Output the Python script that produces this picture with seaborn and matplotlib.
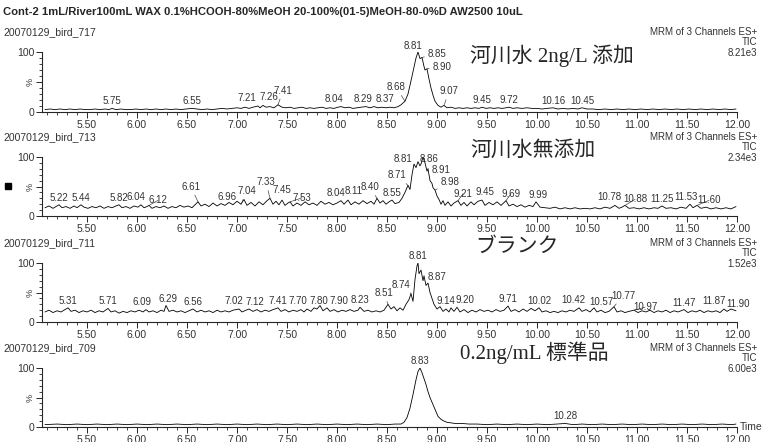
import matplotlib
matplotlib.use("Agg")
import matplotlib.pyplot as plt
from matplotlib.patches import Rectangle
from matplotlib.ticker import MultipleLocator, FixedLocator
import numpy as np
import seaborn as sns

TITLE = "Cont-2 1mL/River100mL WAX 0.1%HCOOH-80%MeOH 20-100%(01-5)MeOH-80-0%D AW2500 10uL"
samples = ["20070129_bird_717", "20070129_bird_713", "20070129_bird_711", "20070129_bird_709"]
conditions = ["河川水 2ng/L 添加", "河川水無添加", "ブランク", "0.2ng/mL 標準品"]
scales = ["8.21e3", "2.34e3", "1.52e3", "6.00e3"]
x_ticks = [5.50, 6.00, 6.50, 7.00, 7.50, 8.00, 8.50, 9.00, 9.50, 10.00, 10.50, 11.00, 11.50, 12.00]

# trace 1: river water + 2 ng/L
t1 = [5.08, 5.13, 5.18, 5.23, 5.28, 5.33, 5.38, 5.43, 5.48, 5.53, 5.58, 5.63, 5.68, 5.72, 5.75,
      5.79, 5.84, 5.89, 5.94, 5.99, 6.04, 6.09, 6.14, 6.19, 6.24, 6.29, 6.34, 6.39, 6.44, 6.49,
      6.55, 6.60, 6.65, 6.70, 6.75, 6.80, 6.85, 6.90, 6.95, 7.00, 7.04, 7.08, 7.12, 7.16, 7.21,
      7.23, 7.26, 7.29, 7.33, 7.37, 7.41, 7.45, 7.49, 7.53, 7.57, 7.61, 7.65, 7.69, 7.73, 7.77,
      7.81, 7.85, 7.89, 7.93, 7.97, 8.01, 8.04, 8.08, 8.12, 8.16, 8.20, 8.24, 8.29, 8.33, 8.37,
      8.41, 8.45, 8.49, 8.53, 8.57, 8.61, 8.64, 8.68, 8.71, 8.74, 8.77, 8.79, 8.81, 8.83, 8.85,
      8.87, 8.88, 8.90, 8.92, 8.94, 8.96, 8.98, 9.01, 9.04, 9.07, 9.10, 9.14, 9.18, 9.22, 9.26,
      9.30, 9.34, 9.38, 9.42, 9.45, 9.49, 9.53, 9.57, 9.61, 9.65, 9.69, 9.72, 9.76, 9.80, 9.85,
      9.90, 9.95, 10.00, 10.05, 10.10, 10.16, 10.21, 10.26, 10.31, 10.36, 10.41, 10.45, 10.50,
      10.56, 10.62, 10.68, 10.74, 10.80, 10.86, 10.92, 10.98, 11.04, 11.10, 11.16, 11.22, 11.28,
      11.34, 11.40, 11.46, 11.52, 11.58, 11.64, 11.70, 11.76, 11.82, 11.88, 11.94, 11.99]
y1 = [4, 5, 4, 5, 4, 5, 4, 5, 4, 4, 5, 4, 5, 4, 6,
      4, 5, 4, 4, 5, 4, 5, 4, 5, 4, 5, 4, 5, 4, 5,
      6, 5, 4, 5, 4, 5, 6, 5, 6, 7, 6, 8, 6, 8, 10,
      7, 11, 8, 9, 7, 12, 8, 7, 8, 6, 7, 8, 6, 7, 6,
      7, 8, 6, 7, 6, 8, 9, 7, 8, 6, 7, 8, 9, 7, 9,
      7, 8, 7, 8, 7, 9, 12, 18, 30, 52, 75, 90, 100, 89, 91,
      76, 70, 72, 55, 40, 28, 18, 11, 8, 11, 7, 8, 6, 7, 6,
      7, 6, 7, 6, 8, 6, 7, 6, 7, 6, 7, 8, 6, 7, 6,
      7, 6, 6, 5, 6, 7, 5, 6, 5, 6, 5, 7, 5,
      5, 4, 5, 4, 5, 4, 5, 4, 5, 4, 5, 4, 5,
      4, 5, 4, 5, 4, 5, 4, 5, 4, 5, 4, 5]
peaks1 = ["5.75", "6.55", "7.21", "7.26", "7.41", "8.04", "8.29", "8.37", "8.68", "8.81",
          "8.85", "8.90", "9.07", "9.45", "9.72", "10.16", "10.45"]

# trace 2: river water, no spike
t2 = [5.08, 5.12, 5.16, 5.19, 5.22, 5.25, 5.29, 5.33, 5.37, 5.40, 5.44, 5.47, 5.51, 5.55, 5.59,
      5.63, 5.67, 5.71, 5.75, 5.79, 5.82, 5.85, 5.89, 5.93, 5.97, 6.01, 6.04, 6.07, 6.10, 6.12,
      6.15, 6.19, 6.23, 6.27, 6.31, 6.35, 6.39, 6.43, 6.47, 6.51, 6.55, 6.58, 6.61, 6.64, 6.68,
      6.72, 6.76, 6.80, 6.84, 6.88, 6.92, 6.96, 7.00, 7.04, 7.07, 7.10, 7.14, 7.18, 7.22, 7.26,
      7.30, 7.33, 7.36, 7.39, 7.42, 7.45, 7.48, 7.51, 7.53, 7.56, 7.60, 7.64, 7.68, 7.72, 7.76,
      7.80, 7.84, 7.88, 7.92, 7.96, 8.00, 8.04, 8.07, 8.11, 8.14, 8.18, 8.22, 8.26, 8.30, 8.34,
      8.37, 8.40, 8.43, 8.46, 8.49, 8.52, 8.55, 8.58, 8.62, 8.65, 8.68, 8.71, 8.73, 8.75, 8.77,
      8.79, 8.81, 8.83, 8.84, 8.86, 8.88, 8.90, 8.91, 8.93, 8.95, 8.96, 8.98, 9.00, 9.02, 9.04,
      9.06, 9.08, 9.11, 9.14, 9.17, 9.21, 9.24, 9.27, 9.30, 9.34, 9.37, 9.41, 9.45, 9.48, 9.52,
      9.56, 9.60, 9.64, 9.69, 9.72, 9.76, 9.80, 9.84, 9.88, 9.92, 9.96, 9.99, 10.03, 10.08,
      10.13, 10.18, 10.23, 10.28, 10.33, 10.38, 10.43, 10.48, 10.53, 10.58, 10.63, 10.68, 10.73,
      10.78, 10.82, 10.85, 10.88, 10.92, 10.97, 11.02, 11.07, 11.12, 11.17, 11.21, 11.25, 11.29,
      11.34, 11.39, 11.44, 11.49, 11.53, 11.56, 11.60, 11.64, 11.69, 11.74, 11.79, 11.84, 11.89,
      11.94, 11.99]
y2 = [14, 17, 13, 16, 19, 14, 16, 13, 17, 14, 19, 15, 13, 16, 14,
      17, 13, 16, 14, 17, 19, 14, 16, 13, 17, 15, 19, 14, 16, 18,
      13, 16, 14, 17, 13, 16, 14, 18, 15, 17, 14, 19, 24, 17, 20,
      16, 22, 17, 21, 18, 23, 19, 25, 20, 28, 18, 23, 17, 24, 19,
      26, 30, 20, 25, 19, 27, 18, 22, 24, 17, 22, 18, 24, 19, 22,
      18, 25, 20, 23, 19, 22, 26, 20, 27, 19, 24, 20, 26, 21, 25,
      20, 30, 22, 26, 20, 24, 27, 21, 23, 30, 40, 52, 45, 70, 88,
      82, 92, 85, 88, 100, 90, 76, 80, 60, 55, 48, 44, 34, 28, 20,
      26, 18, 24, 17, 22, 26, 18, 23, 17, 24, 19, 25, 27, 18, 23,
      19, 24, 18, 26, 17, 20, 16, 19, 15, 18, 16, 24, 15, 14,
      13, 15, 12, 14, 12, 14, 12, 13, 12, 14, 12, 15, 13,
      18, 13, 15, 18, 13, 14, 12, 14, 12, 14, 13, 17, 13,
      14, 12, 15, 13, 20, 14, 18, 13, 15, 12, 14, 12, 14,
      12, 16]
peaks2 = ["5.22", "5.44", "5.82", "6.04", "6.12", "6.61", "6.96", "7.04", "7.33", "7.45",
          "7.53", "8.04", "8.11", "8.40", "8.55", "8.71", "8.81", "8.86", "8.91", "8.98",
          "9.21", "9.45", "9.69", "9.99", "10.78", "10.88", "11.25", "11.53", "11.60"]

# trace 3: blank
t3 = [5.08, 5.12, 5.16, 5.20, 5.24, 5.28, 5.31, 5.34, 5.38, 5.42, 5.46, 5.50, 5.54, 5.58, 5.62,
      5.66, 5.71, 5.74, 5.78, 5.82, 5.86, 5.90, 5.94, 5.98, 6.02, 6.06, 6.09, 6.12, 6.16, 6.20,
      6.24, 6.27, 6.29, 6.32, 6.36, 6.40, 6.44, 6.48, 6.52, 6.56, 6.60, 6.64, 6.68, 6.72, 6.76,
      6.80, 6.84, 6.88, 6.92, 6.96, 7.02, 7.05, 7.09, 7.12, 7.16, 7.20, 7.24, 7.28, 7.32, 7.36,
      7.41, 7.44, 7.48, 7.52, 7.56, 7.60, 7.64, 7.67, 7.70, 7.74, 7.77, 7.80, 7.83, 7.86, 7.90,
      7.93, 7.97, 8.01, 8.05, 8.09, 8.13, 8.17, 8.21, 8.23, 8.27, 8.31, 8.35, 8.39, 8.43, 8.47,
      8.51, 8.54, 8.57, 8.60, 8.63, 8.66, 8.69, 8.72, 8.74, 8.76, 8.78, 8.80, 8.81, 8.82, 8.84,
      8.86, 8.87, 8.89, 8.91, 8.93, 8.95, 8.97, 9.00, 9.03, 9.06, 9.09, 9.12, 9.14, 9.17, 9.20,
      9.23, 9.27, 9.31, 9.35, 9.39, 9.43, 9.47, 9.51, 9.55, 9.59, 9.63, 9.67, 9.71, 9.74, 9.78,
      9.82, 9.86, 9.90, 9.94, 9.98, 10.02, 10.05, 10.09, 10.13, 10.17, 10.21, 10.25, 10.29,
      10.33, 10.37, 10.42, 10.45, 10.49, 10.53, 10.57, 10.60, 10.64, 10.68, 10.72, 10.77, 10.80,
      10.84, 10.88, 10.92, 10.97, 11.01, 11.05, 11.09, 11.13, 11.17, 11.21, 11.25, 11.29, 11.33,
      11.37, 11.41, 11.47, 11.51, 11.55, 11.59, 11.63, 11.67, 11.71, 11.75, 11.79, 11.83, 11.87,
      11.90, 11.94, 11.99]
y3 = [17, 20, 16, 19, 17, 21, 24, 18, 20, 16, 19, 17, 20, 16, 19,
      17, 23, 17, 19, 15, 18, 16, 19, 17, 20, 17, 21, 17, 19, 16,
      20, 18, 28, 18, 20, 17, 19, 16, 19, 22, 17, 20, 17, 19, 16,
      20, 17, 19, 17, 20, 22, 17, 20, 22, 18, 21, 17, 20, 18, 21,
      24, 18, 21, 17, 20, 18, 21, 17, 22, 18, 24, 22, 28, 19, 24,
      18, 21, 17, 20, 18, 21, 18, 20, 25, 18, 20, 17, 19, 17, 20,
      30, 22, 26, 19, 24, 20, 30, 38, 48, 35, 72, 95, 100, 82, 88,
      70, 78, 62, 66, 50, 40, 30, 22, 26, 18, 22, 17, 24, 18, 25,
      17, 21, 16, 20, 17, 21, 18, 20, 17, 21, 18, 20, 27, 18, 21,
      17, 22, 18, 23, 19, 24, 17, 19, 16, 18, 16, 19, 17,
      20, 18, 24, 18, 21, 17, 24, 17, 20, 16, 18, 26, 17,
      19, 16, 18, 20, 16, 19, 17, 20, 16, 19, 17, 20, 16,
      19, 17, 21, 16, 19, 17, 20, 16, 19, 17, 19, 16, 22,
      18, 22, 19]
peaks3 = ["5.31", "5.71", "6.09", "6.29", "6.56", "7.02", "7.12", "7.41", "7.70", "7.80",
          "7.90", "8.23", "8.51", "8.74", "8.81", "8.87", "9.14", "9.20", "9.71", "10.02",
          "10.42", "10.57", "10.77", "10.97", "11.47", "11.87", "11.90"]

# trace 4: 0.2 ng/mL standard
t4 = [5.08, 5.20, 5.30, 5.40, 5.50, 5.60, 5.70, 5.80, 5.90, 6.00, 6.10, 6.20, 6.30, 6.40, 6.50,
      6.60, 6.70, 6.80, 6.90, 7.00, 7.10, 7.20, 7.30, 7.40, 7.50, 7.60, 7.70, 7.80, 7.90, 8.00,
      8.10, 8.20, 8.30, 8.40, 8.50, 8.58, 8.64, 8.67, 8.70, 8.73, 8.76, 8.79, 8.81, 8.83, 8.85,
      8.87, 8.89, 8.91, 8.93, 8.95, 8.97, 8.99, 9.01, 9.04, 9.07, 9.10, 9.14, 9.18, 9.25, 9.32,
      9.40, 9.50, 9.60, 9.70, 9.80, 9.90, 10.00, 10.10, 10.20, 10.28, 10.36, 10.45, 10.55,
      10.65, 10.75, 10.85, 10.95, 11.05, 11.15, 11.25, 11.35, 11.45, 11.55, 11.65, 11.75,
      11.85, 11.95, 11.99]
y4 = [4, 5, 4, 5, 4, 5, 4, 5, 4, 5, 4, 5, 4, 5, 4,
      5, 4, 5, 4, 5, 4, 5, 4, 5, 4, 5, 4, 5, 4, 5,
      4, 5, 4, 5, 4, 5, 5, 8, 16, 32, 55, 80, 94, 100, 92,
      82, 72, 60, 50, 42, 34, 26, 18, 13, 10, 8, 7, 6, 6, 5,
      5, 4, 5, 4, 5, 4, 5, 4, 5, 6, 4, 5, 4,
      5, 4, 5, 4, 5, 4, 5, 4, 5, 4, 5, 4,
      5, 4, 5]
peaks4 = ["8.83", "10.28"]

traces = [(t1, y1, peaks1), (t2, y2, peaks2), (t3, y3, peaks3), (t4, y4, peaks4)]

# label offsets in pixels (dx, dy, leader line)
label_offsets = [
    {"7.21": (-11, 3, False), "7.26": (6, 3, False), "7.41": (5, 9, True), "8.04": (-7, 3, False),
     "8.29": (-3, 3, False), "8.37": (11, 3, False), "8.68": (-9, 9, True), "8.81": (-5, 1, False),
     "8.85": (15, -2, True), "8.90": (15, -3, True), "9.07": (5, 9, True)},
    {"6.04": (-5, 3, False), "6.12": (9, 0, True), "6.61": (-7, 10, True), "6.96": (-6, 3, False),
     "7.04": (6, 8, True), "7.33": (-4, 11, True), "7.45": (0, 5, False), "7.53": (12, -1, True),
     "8.04": (-5, 3, False), "8.11": (6, 4, False), "8.40": (-7, 6, True), "8.55": (0, 2, False),
     "8.71": (-11, 5, True), "8.81": (-15, -2, False), "8.86": (6, -7, False),
     "8.91": (13, -6, True), "8.98": (15, 3, True), "9.21": (5, 2, True), "9.45": (3, 3, False),
     "9.69": (5, 2, True), "9.99": (2, 2, False), "10.78": (-6, 3, False), "10.88": (10, 1, True),
     "11.53": (-4, 2, False), "11.60": (12, 0, True)},
    {"6.09": (-4, 3, False), "6.29": (2, 1, False), "7.02": (-5, 3, False), "7.12": (6, 2, False),
     "7.70": (-9, 3, False), "7.80": (2, 3, False), "7.90": (12, 2, False), "8.51": (-4, 6, True),
     "8.74": (-10, 4, True), "8.87": (13, -6, True), "9.14": (-5, 2, False), "9.20": (8, 2, False),
     "10.42": (-6, 3, False), "10.57": (7, 1, False), "10.77": (9, 6, True),
     "10.97": (11, -2, True), "11.87": (-10, 3, False), "11.90": (11, 2, False)},
    {},
]

W, H = 770, 442
ax_left, ax_right = 42, 737
ax_tops = [52, 157, 263, 368]
ax_bottoms = [112, 216, 322, 427]
label_pos = [(470, 56), (470, 151), (475, 247), (460, 353)]

sns.set_style("ticks")
plt.rcParams["font.family"] = ["Liberation Sans", "DejaVu Sans"]
jp_family = ["Liberation Serif", "Noto Sans CJK JP"]
small_col = "#333333"

fig = plt.figure(figsize=(W / 100, H / 100), dpi=100)


def fx(px):
    return px / W


def fy(py):
    return 1 - py / H


fig.text(fx(3), fy(12), TITLE, fontsize=8.1, fontweight="bold", va="center", ha="left")

for i, (t, y, peaks) in enumerate(traces):
    top, bot = ax_tops[i], ax_bottoms[i]
    ax = fig.add_axes([fx(ax_left), fy(bot), (ax_right - ax_left) / W, (bot - top) / H])
    sns.lineplot(x=t, y=y, ax=ax, color="black", linewidth=0.6, estimator=None, sort=False)
    ax.set_xlim(5.05, 12.0)
    ax.set_ylim(0, 100)
    sns.despine(ax=ax)
    for s in ("left", "bottom"):
        ax.spines[s].set_linewidth(0.8)
    ax.xaxis.set_major_locator(FixedLocator(x_ticks))
    ax.set_xticklabels([f"{v:.2f}" for v in x_ticks])
    ax.xaxis.set_minor_locator(MultipleLocator(0.1))
    ax.yaxis.set_major_locator(FixedLocator([0, 50, 100]))
    ax.set_yticklabels(["0", "%", "100"])
    ax.yaxis.set_minor_locator(MultipleLocator(10))
    ax.tick_params(axis="both", which="major", length=4, width=0.7, labelsize=7.5,
                   labelcolor=small_col, pad=1.5)
    ax.tick_params(axis="both", which="minor", length=2, width=0.6)
    for lab in ax.get_yticklabels():
        if lab.get_text() == "%":
            lab.set_rotation(90)
            lab.set_fontsize(6.5)
            lab.set_va("center")
    ax.set_xlabel("")
    ax.set_ylabel("")

    offs = label_offsets[i]
    for p in peaks:
        tp = float(p)
        yp = float(np.interp(tp, t, y))
        dx, dy, leader = offs.get(p, (0, 2, False))
        ax.annotate(p, xy=(tp, yp), xytext=(dx, dy), textcoords="offset pixels",
                    ha="center", va="bottom", fontsize=7, color=small_col,
                    annotation_clip=False,
                    arrowprops=dict(arrowstyle="-", lw=0.5, color="#444444",
                                    shrinkA=0, shrinkB=0) if leader else None)

    fig.text(fx(3), fy(top - 20), samples[i], fontsize=7.5, color=small_col, va="center")
    fig.text(fx(757), fy(top - 20), "MRM of 3 Channels ES+", fontsize=7, color=small_col,
             va="center", ha="right")
    fig.text(fx(757), fy(top - 10), "TIC", fontsize=7, color=small_col, va="center", ha="right")
    fig.text(fx(757), fy(top + 1), scales[i], fontsize=7, color=small_col, va="center", ha="right")
    lx, ly = label_pos[i]
    fig.text(fx(lx), fy(ly), conditions[i], fontsize=15, family=jp_family, va="center", ha="left")

fig.text(fx(740), fy(427), "Time", fontsize=7.5, color=small_col, va="center", ha="left")
fig.add_artist(Rectangle((fx(5), fy(189)), 6 / W, 6 / H, transform=fig.transFigure,
                         color="black"))

fig.savefig("out.png", dpi=100)
